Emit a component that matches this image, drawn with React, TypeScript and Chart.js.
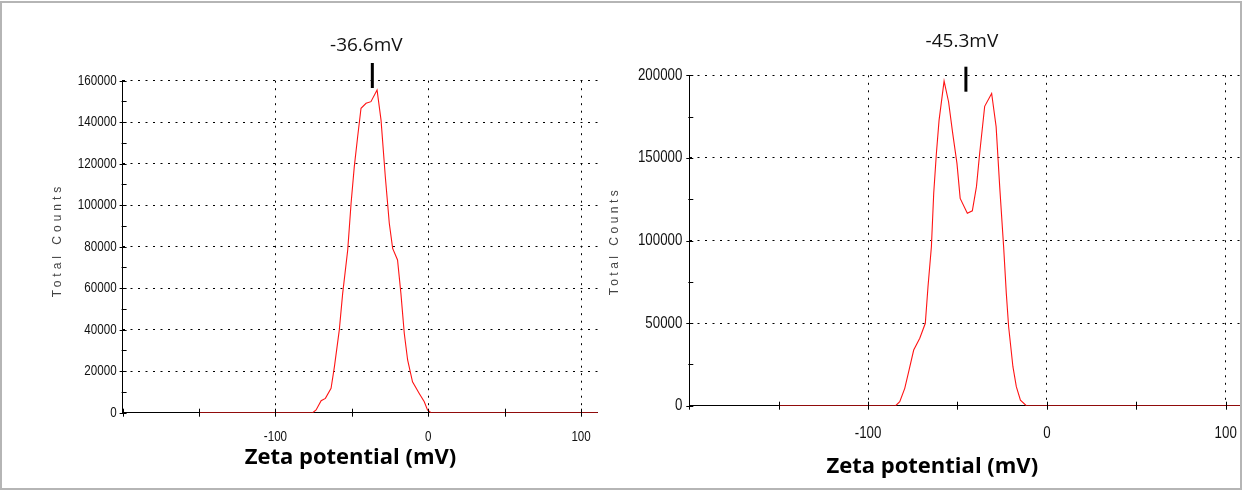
import { useEffect, useRef } from 'react';
import { Chart, registerables } from 'chart.js';

Chart.register(...registerables);

// Zeta potential distributions (mV vs. total counts) for the two samples
const panelAZeta = [-150, -75.6, -73.4, -70.1, -67.3, -63.6, -61.4, -58.2, -56.0, -52.7, -50.5, -48.4, -46.2, -44.0, -40.7, -37.5, -33.5, -30.9, -28.1, -25.5, -23.3, -20.1, -17.9, -15.7, -13.5, -10.3, -5.9, -2.6, -0.5, 1.8, 111];
const panelACounts = [0, 0, 1300, 5800, 6900, 11800, 22200, 39900, 57500, 78400, 100900, 118600, 133000, 146700, 149100, 149900, 155500, 141000, 113700, 91300, 79200, 73600, 57500, 38300, 25400, 14900, 9300, 5300, 1300, 0, 0];
const panelAMean = -36.6;

const panelBZeta = [-150, -84.6, -82.3, -79.5, -77.1, -74.5, -71.1, -68.0, -66.5, -64.6, -63.3, -61.8, -60.3, -57.5, -55.0, -52.7, -50.3, -48.5, -44.5, -41.7, -39.4, -37.6, -34.8, -30.9, -28.4, -26.4, -24.2, -22.7, -21.4, -19.0, -17.1, -14.8, -11.5, 108];
const panelBCounts = [0, 0, 2400, 10500, 21600, 33700, 40800, 49900, 72000, 96200, 128600, 152800, 172900, 196500, 184000, 165000, 146700, 125500, 116500, 118000, 132600, 152800, 181200, 189000, 168900, 132600, 96200, 68000, 47800, 23600, 11500, 3400, 0, 0];
const panelBMean = -45.3;

const xLabelValues = [-100, 0, 100];
const X_MIN = -200;
const X_TICK_STEP = 50;

const X_TITLE = 'Zeta potential (mV)';
const Y_TITLE = 'Total Counts';

const PAGE_W = 1242;
const PAGE_H = 492;

// tick labels use a horizontally condensed sans face
const TICK_FONT = '"Liberation Sans", Arial, sans-serif';
const TICK_SQUEEZE = 0.83;

type PanelSpec = {
  zeta: number[];
  counts: number[];
  mean: number;
  xMax: number;
  yMax: number;
  yMinorStep: number;
  yMajorStep: number;
  area: { left: number; top: number; right: number; bottom: number };
  fontSize: number;
  xLabelOffset: number;
  yLabelPad: number;
  barAbove: number;
  barBelow: number;
  meanLabelY: number;
  meanLabelDx: number;
  yTitle: { x: number; y: number; spacing: number };
  xTitle: { x: number; y: number };
};

const panelA: PanelSpec = {
  zeta: panelAZeta,
  counts: panelACounts,
  mean: panelAMean,
  xMax: 111,
  yMax: 160000,
  yMinorStep: 10000,
  yMajorStep: 20000,
  area: { left: 122.6, top: 80.7, right: 597.9, bottom: 412.7 },
  fontSize: 14,
  xLabelOffset: 24,
  yLabelPad: 6,
  barAbove: 17.7,
  barBelow: 7.3,
  meanLabelY: 45.5,
  meanLabelDx: -6,
  yTitle: { x: 58, y: 240, spacing: 4 },
  xTitle: { x: 350.5, y: 464 },
};

const panelB: PanelSpec = {
  zeta: panelBZeta,
  counts: panelBCounts,
  mean: panelBMean,
  xMax: 108,
  yMax: 200000,
  yMinorStep: 25000,
  yMajorStep: 50000,
  area: { left: 689.3, top: 75.3, right: 1240, bottom: 405.7 },
  fontSize: 16,
  xLabelOffset: 27.6,
  yLabelPad: 7,
  barAbove: 8.6,
  barBelow: 16.4,
  meanLabelY: 41.7,
  meanLabelDx: -4,
  yTitle: { x: 615, y: 241, spacing: 3.5 },
  xTitle: { x: 932.3, y: 473 },
};

function drawSqueezed(ctx: CanvasRenderingContext2D, text: string, x: number, y: number) {
  ctx.save();
  ctx.translate(x, y);
  ctx.scale(TICK_SQUEEZE, 1);
  ctx.fillText(text, 0, 0);
  ctx.restore();
}

// Axis ticks and labels, mean marker, and axis titles drawn on top of the plot
function decorations(spec: PanelSpec) {
  return {
    id: 'zetaDecorations',
    afterDraw(chart: any) {
      const { ctx, chartArea: a } = chart;
      const xs = chart.scales.x;
      const ys = chart.scales.y;
      ctx.save();

      // tick marks crossing the axes
      ctx.strokeStyle = '#000';
      ctx.lineWidth = 1;
      ctx.beginPath();
      for (const t of ys.ticks) {
        const py = Math.round(ys.getPixelForValue(t.value)) + 0.5;
        const major = t.value % spec.yMajorStep === 0;
        ctx.moveTo(a.left - (major ? 3 : 1), py);
        ctx.lineTo(a.left + 4, py);
      }
      for (const t of xs.ticks) {
        const px = Math.round(xs.getPixelForValue(t.value)) + 0.5;
        ctx.moveTo(px, a.bottom - 4);
        ctx.lineTo(px, a.bottom + 4);
      }
      ctx.stroke();

      // tick labels
      ctx.fillStyle = '#111';
      ctx.font = `${spec.fontSize}px ${TICK_FONT}`;
      ctx.textBaseline = 'middle';
      ctx.textAlign = 'right';
      for (const t of ys.ticks) {
        if (t.value % spec.yMajorStep !== 0) continue;
        drawSqueezed(ctx, String(t.value), a.left - spec.yLabelPad, ys.getPixelForValue(t.value));
      }
      ctx.textAlign = 'center';
      for (const t of xs.ticks) {
        if (!xLabelValues.includes(t.value)) continue;
        drawSqueezed(ctx, String(t.value), xs.getPixelForValue(t.value), a.bottom + spec.xLabelOffset);
      }

      // mean zeta potential marker and label
      const mx = xs.getPixelForValue(spec.mean);
      ctx.fillStyle = '#000';
      ctx.fillRect(mx - 1.5, a.top - spec.barAbove, 3, spec.barAbove + spec.barBelow);
      ctx.font = '19px "Open Sans", "Noto Sans", sans-serif';
      ctx.textAlign = 'center';
      ctx.textBaseline = 'middle';
      ctx.fillStyle = '#111';
      ctx.fillText(`${spec.mean.toFixed(1)}mV`, mx + spec.meanLabelDx, spec.meanLabelY);

      // x-axis title
      ctx.font = 'bold 22px "Open Sans", "Noto Sans", sans-serif';
      ctx.textBaseline = 'alphabetic';
      ctx.fillStyle = '#000';
      ctx.fillText(X_TITLE, spec.xTitle.x, spec.xTitle.y);

      // y-axis title, rotated and letter-spaced
      ctx.save();
      ctx.translate(spec.yTitle.x, spec.yTitle.y);
      ctx.rotate(-Math.PI / 2);
      (ctx as any).letterSpacing = `${spec.yTitle.spacing}px`;
      ctx.font = '12px "Liberation Sans", Arial, sans-serif';
      ctx.fillStyle = '#444';
      ctx.textAlign = 'center';
      ctx.textBaseline = 'middle';
      ctx.fillText(Y_TITLE, 0, 0);
      ctx.restore();

      ctx.restore();
    },
  };
}

function ZetaPanel({ spec }: { spec: PanelSpec }) {
  const canvasRef = useRef<HTMLCanvasElement | null>(null);

  useEffect(() => {
    const canvas = canvasRef.current;
    if (!canvas) return;
    const yAxisWidth = 80;
    const xAxisHeight = 40;
    const gridDash = [2, 5.5];

    const chart = new Chart(canvas, {
      type: 'line',
      data: {
        datasets: [
          {
            data: spec.zeta.map((z, i) => ({ x: z, y: spec.counts[i] })),
            borderColor: 'rgb(255, 20, 20)',
            borderWidth: 1.1,
            pointRadius: 0,
            tension: 0,
            fill: false,
          },
        ],
      },
      options: {
        responsive: false,
        animation: false,
        events: [],
        layout: {
          padding: {
            left: spec.area.left - yAxisWidth,
            top: spec.area.top,
            right: PAGE_W - spec.area.right,
            bottom: PAGE_H - spec.area.bottom - xAxisHeight,
          },
        },
        plugins: {
          legend: { display: false },
          tooltip: { enabled: false },
          title: { display: false },
        },
        scales: {
          x: {
            type: 'linear',
            min: X_MIN,
            max: spec.xMax,
            afterFit: (scale: any) => {
              scale.height = xAxisHeight;
            },
            ticks: {
              display: false,
              stepSize: X_TICK_STEP,
              includeBounds: false,
              autoSkip: false,
              maxRotation: 0,
              padding: 0,
            },
            grid: {
              drawTicks: false,
              tickLength: 0,
              lineWidth: 1,
              color: (ctx: any) =>
                ctx.tick && xLabelValues.includes(ctx.tick.value) ? '#000' : 'rgba(0,0,0,0)',
            },
            border: { display: true, color: '#000', width: 1, dash: gridDash },
          },
          y: {
            type: 'linear',
            min: 0,
            max: spec.yMax,
            afterFit: (scale: any) => {
              scale.width = yAxisWidth;
            },
            ticks: {
              display: false,
              stepSize: spec.yMinorStep,
              autoSkip: false,
              padding: 0,
            },
            grid: {
              drawTicks: false,
              tickLength: 0,
              lineWidth: 1,
              color: (ctx: any) =>
                ctx.tick && ctx.tick.value !== 0 && ctx.tick.value % spec.yMajorStep === 0
                  ? '#000'
                  : 'rgba(0,0,0,0)',
            },
            border: { display: true, color: '#000', width: 1, dash: gridDash },
          },
        },
      },
      plugins: [decorations(spec)],
    } as any);

    return () => chart.destroy();
  }, [spec]);

  return (
    <canvas
      ref={canvasRef}
      width={PAGE_W}
      height={PAGE_H}
      style={{ position: 'absolute', left: 0, top: 0, width: PAGE_W, height: PAGE_H }}
    />
  );
}

export default function App() {
  return (
    <div
      style={{
        position: 'fixed',
        left: 0,
        top: 0,
        width: PAGE_W,
        height: PAGE_H,
        background: '#fff',
        overflow: 'hidden',
      }}
    >
      <ZetaPanel spec={panelA} />
      <ZetaPanel spec={panelB} />
      <div
        style={{
          position: 'absolute',
          left: 0,
          top: 1,
          width: PAGE_W,
          height: 489,
          boxSizing: 'border-box',
          border: '2px solid #b5b5b5',
          pointerEvents: 'none',
        }}
      />
    </div>
  );
}
